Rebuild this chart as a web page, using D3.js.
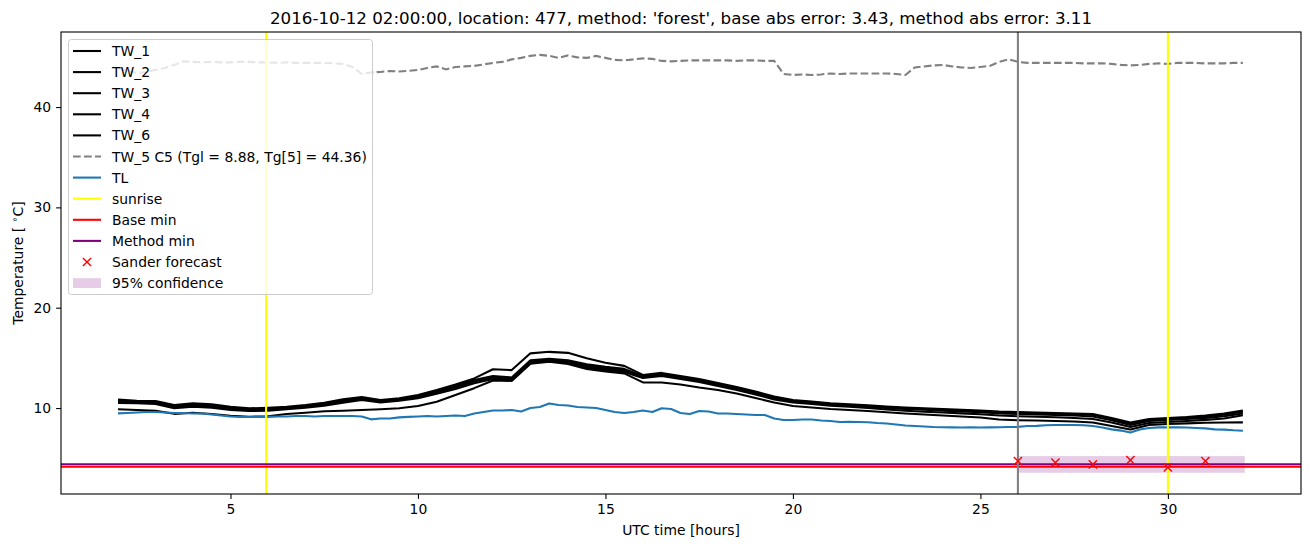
<!DOCTYPE html>
<html>
<head>
<meta charset="utf-8">
<script src="https://cdn.jsdelivr.net/npm/d3@7"></script>
<style>
  html, body { margin: 0; padding: 0; background: #fff; }
  svg { display: block; font-family: "DejaVu Sans", sans-serif; }
</style>
</head>
<body>
<svg id="chart" width="1310" height="547"></svg>
<script>
// ---------------- DATA ----------------
const titleText = "2016-10-12 02:00:00, location: 477, method: 'forest', base abs error: 3.43, method abs error: 3.11";

// half-hour sampling for the TW sensor lines, quarter-hour for TL and TW_5
const hoursCoarse = d3.range(2, 32.001, 0.5);
const hoursFine = d3.range(2, 32.001, 0.25);

const TW_1 = [10.85,10.73,10.7,10.3,10.47,10.37,10.13,9.97,10.03,10.13,10.3,10.53,10.86,11.1,10.8,10.97,11.3,11.8,12.35,12.95,13.86,13.78,15.45,15.6,15.5,14.95,14.52,14.2,13.3,13.5,13.2,12.9,12.5,12.1,11.65,11.15,10.8,10.65,10.47,10.38,10.28,10.15,10.05,9.98,9.9,9.82,9.75,9.65,9.6,9.55,9.5,9.45,9.4,9.0,8.55,8.9,9.0,9.1,9.25,9.45,9.75];
const TW_2 = [10.75,10.63,10.6,10.2,10.37,10.27,10.03,9.87,9.93,10.03,10.2,10.43,10.75,11.0,10.72,10.9,11.2,11.68,12.2,12.8,13.2,13.05,14.75,14.9,14.75,14.35,14.1,13.9,13.2,13.4,13.1,12.8,12.4,12.0,11.55,11.05,10.72,10.57,10.4,10.3,10.2,10.08,9.98,9.9,9.82,9.74,9.67,9.58,9.52,9.48,9.43,9.38,9.32,8.92,8.45,8.82,8.92,9.02,9.15,9.33,9.62];
const TW_3 = [10.62,10.55,10.5,10.1,10.25,10.15,9.92,9.78,9.83,9.95,10.12,10.33,10.65,10.9,10.64,10.82,11.08,11.55,12.05,12.65,13.05,12.9,14.6,14.8,14.65,14.2,13.95,13.75,13.1,13.3,13.0,12.7,12.3,11.9,11.45,10.95,10.64,10.49,10.32,10.22,10.12,10.0,9.9,9.82,9.74,9.66,9.58,9.45,9.4,9.35,9.3,9.25,9.15,8.78,8.3,8.7,8.8,8.9,9.02,9.18,9.45];
const TW_4 = [10.5,10.47,10.4,9.97,10.13,10.03,9.8,9.7,9.73,9.87,10.03,10.23,10.53,10.8,10.56,10.73,10.97,11.42,11.9,12.48,12.9,12.8,14.5,14.7,14.52,14.05,13.8,13.6,13.0,13.2,12.9,12.6,12.2,11.8,11.35,10.85,10.55,10.4,10.22,10.13,10.0,9.85,9.72,9.62,9.55,9.47,9.38,9.25,9.18,9.13,9.08,9.0,8.9,8.55,8.1,8.5,8.6,8.7,8.82,8.95,9.28];
const TW_6 = [9.87,9.8,9.73,9.42,9.53,9.4,9.23,9.13,9.18,9.4,9.53,9.68,9.73,9.8,9.87,9.97,10.2,10.63,11.3,11.98,12.75,12.7,14.42,14.62,14.4,13.9,13.65,13.45,12.55,12.55,12.35,12.05,11.8,11.45,11.0,10.55,10.2,10.05,9.9,9.8,9.7,9.58,9.45,9.35,9.25,9.15,9.05,8.85,8.78,8.75,8.7,8.65,8.55,8.2,7.85,8.3,8.4,8.47,8.53,8.56,8.57];

const TW_5 = [43.9,43.6,43.4,43.5,43.7,43.9,44.2,44.55,44.5,44.45,44.5,44.45,44.45,44.5,44.5,44.45,44.45,44.4,44.45,44.4,44.4,44.4,44.4,44.35,44.3,44.0,43.3,43.45,43.5,43.6,43.55,43.6,43.7,43.9,44.05,43.75,44.0,44.05,44.1,44.25,44.4,44.5,44.75,44.9,45.1,45.2,45.1,44.9,45.15,44.95,44.9,45.1,44.9,44.7,44.65,44.75,44.85,44.8,44.6,44.55,44.6,44.65,44.65,44.65,44.65,44.65,44.6,44.65,44.65,44.6,44.6,43.3,43.2,43.25,43.2,43.25,43.35,43.3,43.35,43.35,43.35,43.35,43.35,43.3,43.2,43.95,44.05,44.15,44.2,44.05,43.95,43.9,44.0,44.1,44.5,44.75,44.5,44.4,44.4,44.4,44.4,44.4,44.4,44.35,44.35,44.35,44.3,44.2,44.15,44.2,44.3,44.35,44.3,44.4,44.4,44.4,44.35,44.35,44.35,44.4,44.4];

const TL = [9.47,9.5,9.55,9.6,9.6,9.55,9.5,9.5,9.45,9.45,9.35,9.25,9.15,9.1,9.1,9.1,9.12,9.15,9.15,9.2,9.2,9.15,9.2,9.2,9.2,9.2,9.15,8.87,8.95,8.95,9.07,9.12,9.15,9.2,9.15,9.2,9.25,9.2,9.45,9.6,9.75,9.75,9.8,9.65,10.0,10.1,10.45,10.3,10.25,10.1,10.05,10.0,9.8,9.6,9.5,9.6,9.75,9.6,9.97,9.9,9.5,9.4,9.7,9.65,9.45,9.45,9.4,9.35,9.3,9.3,8.95,8.8,8.8,8.85,8.85,8.75,8.7,8.6,8.62,8.6,8.58,8.5,8.45,8.35,8.25,8.2,8.15,8.1,8.08,8.07,8.05,8.07,8.05,8.07,8.08,8.1,8.12,8.2,8.22,8.28,8.3,8.3,8.3,8.28,8.2,8.05,7.87,7.75,7.57,7.85,8.0,8.07,8.07,8.08,8.05,8.0,7.97,7.87,7.85,7.78,7.74];

const sunriseHours = [5.95, 30.0];
const forecastHour = 26;
const baseMin = 4.15;
const methodMin = 4.39;
const sanderHours = [26, 27, 28, 29, 30, 31];
const sanderValues = [4.72, 4.55, 4.39, 4.81, 4.09, 4.72];
const confLow = 3.55, confHigh = 5.21, confStart = 26, confEnd = 32.05;

const xTicks = [5, 10, 15, 20, 25, 30];
const yTicks = [10, 20, 30, 40];
const legendLabels = ["TW_1", "TW_2", "TW_3", "TW_4", "TW_6", "TW_5 C5 (Tgl = 8.88, Tg[5] = 44.36)", "TL", "sunrise", "Base min", "Method min", "Sander forecast", "95% confidence"];

// ---------------- LAYOUT ----------------
const svg = d3.select("#chart");
const L = 61, R = 1301, T = 32, B = 494;
const FS = 13.9, LW = 2.08;
const x = d3.scaleLinear().domain([0.48, 33.55]).range([L, R]);
const y = d3.scaleLinear().domain([1.43, 47.48]).range([B, T]);

svg.append("defs").append("clipPath").attr("id", "clip")
  .append("rect").attr("x", L).attr("y", T).attr("width", R - L).attr("height", B - T);

const plot = svg.append("g").attr("clip-path", "url(#clip)");

// confidence band
plot.append("rect")
  .attr("x", x(confStart)).attr("width", x(confEnd) - x(confStart))
  .attr("y", y(confHigh)).attr("height", y(confLow) - y(confHigh))
  .attr("fill", "#800080").attr("fill-opacity", 0.2);

const lineC = d3.line().x((d, i) => x(hoursCoarse[i])).y(d => y(d));
const lineF = d3.line().x((d, i) => x(hoursFine[i])).y(d => y(d));

[TW_1, TW_2, TW_3, TW_4, TW_6].forEach(s => {
  plot.append("path").attr("d", lineC(s)).attr("fill", "none")
    .attr("stroke", "#000").attr("stroke-width", LW).attr("stroke-linejoin", "round");
});
plot.append("path").attr("d", lineF(TW_5)).attr("fill", "none")
  .attr("stroke", "#808080").attr("stroke-width", LW).attr("stroke-dasharray", "7.7,3.3");
plot.append("path").attr("d", lineF(TL)).attr("fill", "none")
  .attr("stroke", "#1f77b4").attr("stroke-width", LW).attr("stroke-linejoin", "round");

sunriseHours.forEach(h => {
  plot.append("line").attr("x1", x(h)).attr("x2", x(h)).attr("y1", T).attr("y2", B)
    .attr("stroke", "#ffff00").attr("stroke-width", LW);
});
plot.append("line").attr("x1", L).attr("x2", R).attr("y1", y(baseMin)).attr("y2", y(baseMin))
  .attr("stroke", "#ff0000").attr("stroke-width", LW);
plot.append("line").attr("x1", L).attr("x2", R).attr("y1", y(methodMin)).attr("y2", y(methodMin))
  .attr("stroke", "#800080").attr("stroke-width", LW);
plot.append("line").attr("x1", x(forecastHour)).attr("x2", x(forecastHour)).attr("y1", T).attr("y2", B)
  .attr("stroke", "#808080").attr("stroke-width", LW);

const mk = 4.1;
sanderHours.forEach((h, i) => {
  const cx = x(h), cy = y(sanderValues[i]);
  plot.append("path")
    .attr("d", `M${cx - mk},${cy - mk}L${cx + mk},${cy + mk}M${cx - mk},${cy + mk}L${cx + mk},${cy - mk}`)
    .attr("stroke", "#ff0000").attr("stroke-width", 1.4);
});

// axes frame
svg.append("rect").attr("x", L).attr("y", T).attr("width", R - L).attr("height", B - T)
  .attr("fill", "none").attr("stroke", "#000").attr("stroke-width", 1.1);

const xAxis = svg.append("g").attr("transform", `translate(0,${B})`)
  .call(d3.axisBottom(x).tickValues(xTicks).tickSize(4.9).tickPadding(4.9).tickFormat(d3.format("d")));
const yAxis = svg.append("g").attr("transform", `translate(${L},0)`)
  .call(d3.axisLeft(y).tickValues(yTicks).tickSize(4.9).tickPadding(4.9).tickFormat(d3.format("d")));
[xAxis, yAxis].forEach(a => {
  a.select(".domain").remove();
  a.selectAll("text").attr("font-family", "DejaVu Sans").attr("font-size", FS).attr("fill", "#000");
  a.selectAll("line").attr("stroke", "#000").attr("stroke-width", 1.1);
});

svg.append("text").attr("x", (L + R) / 2).attr("y", 535).attr("text-anchor", "middle")
  .attr("font-size", FS).text("UTC time [hours]");
svg.append("text").attr("transform", `translate(23,${(T + B) / 2}) rotate(-90)`).attr("text-anchor", "middle")
  .attr("font-size", FS).html("Temperature [ <tspan baseline-shift=\"super\" font-size=\"9.5\">∘</tspan>C]");
svg.append("text").attr("x", (L + R) / 2).attr("y", 23.5).attr("text-anchor", "middle")
  .attr("font-size", 16.7).text(titleText);

// legend
const lg = svg.append("g");
lg.append("rect").attr("x", 68.5).attr("y", 39.5).attr("width", 304).attr("height", 255)
  .attr("rx", 3).attr("fill", "#fff").attr("fill-opacity", 0.8).attr("stroke", "#cccccc");
const styles = [
  {t: "line", c: "#000"}, {t: "line", c: "#000"}, {t: "line", c: "#000"}, {t: "line", c: "#000"}, {t: "line", c: "#000"},
  {t: "line", c: "#808080", dash: "7.7,3.3"}, {t: "line", c: "#1f77b4"}, {t: "line", c: "#ffff00"},
  {t: "line", c: "#ff0000"}, {t: "line", c: "#800080"}, {t: "x", c: "#ff0000"}, {t: "patch", c: "#800080"}
];
legendLabels.forEach((lab, i) => {
  const yy = 51 + i * 21.1;
  const s = styles[i];
  if (s.t === "line") {
    lg.append("line").attr("x1", 73).attr("x2", 101).attr("y1", yy).attr("y2", yy)
      .attr("stroke", s.c).attr("stroke-width", LW).attr("stroke-dasharray", s.dash || null);
  } else if (s.t === "x") {
    lg.append("path").attr("d", `M${87 - mk},${yy - mk}L${87 + mk},${yy + mk}M${87 - mk},${yy + mk}L${87 + mk},${yy - mk}`)
      .attr("stroke", s.c).attr("stroke-width", 1.4);
  } else {
    lg.append("rect").attr("x", 73).attr("y", yy - 4.9).attr("width", 28).attr("height", 9.8)
      .attr("fill", s.c).attr("fill-opacity", 0.2);
  }
  lg.append("text").attr("x", 112).attr("y", yy + 5).attr("font-size", FS).text(lab);
});
</script>
</body>
</html>
